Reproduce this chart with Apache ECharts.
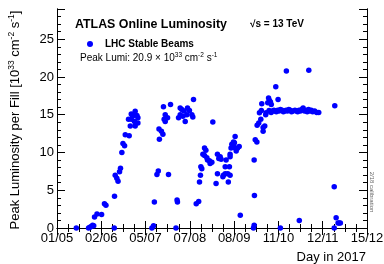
<!DOCTYPE html>
<html>
<head>
<meta charset="utf-8">
<script src="https://cdn.jsdelivr.net/npm/echarts@6/dist/echarts.min.js"></script>
<style>
  html, body { margin: 0; padding: 0; background: #fff; }
  #chart { width: 384px; height: 264px; }
</style>
</head>
<body>
<div id="chart"></div>
<script>
// x axis: days since 1 May 2017, labels dd/mm
const tickLabels = ['01/05', '02/06', '05/07', '07/08', '08/09', '11/10', '12/11', '15/12']
const dayMax = 228 // 1 May -> 15 Dec

// one entry per fill: day since 1 May, peak lumi [10^33 cm^-2 s^-1]
const fillDay = [
  14.2, 23.2, 24.2, 25.2, 26.2, 27.0, 27.6, 29.4, 32.8, 34.9, 36.0,
  42.1, 42.3, 42.8, 44.0, 44.9, 46.0, 46.7, 47.7, 48.5, 49.7, 50.2,
  52.6, 53.1, 53.9, 54.6, 54.6, 55.6, 56.3, 57.0, 57.5, 57.5, 58.8, 59.5, 59.5,
  69.8, 71.0, 71.6, 73.5, 74.5, 75.0, 75.3, 76.8, 77.9, 78.3, 78.8, 79.6, 79.6,
  81.3, 82.0, 83.5, 87.5, 88.3, 88.6, 89.4, 90.6, 90.6, 91.8, 92.6, 93.5,
  94.3, 95.5, 96.0, 97.4, 99.2, 99.9, 100.4,
  102.4, 104.2, 104.8, 105.5, 105.8, 106.5, 107.3, 108.5, 108.5, 109.5,
  110.2, 110.7, 112.1, 112.6, 113.9, 114.6, 117.0, 118.0, 118.0, 119.0,
  120.0, 120.7, 122.0, 122.4, 123.7, 123.7, 124.4, 125.6, 126.0, 126.8,
  127.3, 127.3, 127.3, 128.0, 128.6, 129.8, 129.8, 130.5, 131.0, 131.0,
  131.8, 132.7, 134.0, 134.8,
  144.5, 145.0, 145.2, 145.0, 145.8, 147.0, 147.2, 148.4, 148.9, 149.9,
  150.3, 150.6, 151.6, 151.6, 152.8, 153.5, 153.8, 155.0, 155.6, 156.0,
  156.3, 157.0, 157.6, 160.9, 162.6, 164.3, 168.7, 178.2, 185.2,
  157.5, 158.5, 159.5, 160.5, 161.3, 162.3, 163.3, 164.3, 165.5, 166.5,
  167.5, 168.5, 169.5, 170.5, 171.5, 172.5, 173.5, 175.0, 176.0, 177.0,
  178.0, 179.0, 180.0, 181.0, 182.0, 183.0, 184.0, 185.0, 186.0, 187.0,
  188.0, 189.5, 191.0, 192.5,
  203.9, 203.9, 204.3, 205.3, 206.7, 207.5, 208.4
]
const peakLumi = [
  0, 0, 0.1, 0.2, 0.35, 0.3, 1.45, 1.85, 1.8, 3.2, 3.0,
  0, 4.2, 7.0, 6.6, 6.2, 7.45, 7.9, 10.0, 11.2, 10.9, 12.35,
  14.4, 12.2, 13.5, 15.1, 14.4, 14.8, 15.0, 14.1, 15.45, 13.5, 14.9, 14.6, 13.9,
  0, 0.3, 3.45, 7.1, 7.55, 13.1, 11.75, 12.8, 12.4, 16.05, 14.4, 14.1, 15.0,
  14.6, 7.1, 16.35, 0, 3.7, 3.45, 14.6, 15.0, 15.9, 15.7, 14.8, 15.5,
  14.1, 15.0, 15.9, 15.55, 15.0, 14.7, 17.0,
  3.2, 3.5, 6.1, 7.0, 8.1, 7.85, 9.75, 10.6, 9.6, 10.3,
  9.3, 9.0, 8.9, 8.55, 8.7, 14.05, 5.9, 7.2, 9.75, 9.2,
  9.45, 9.1, 6.8, 7.0, 7.2, 8.1, 9.0, 7.2, 6.1, 8.1,
  7.0, 9.45, 9.75, 10.6, 11.1, 11.4, 11.0, 11.3, 12.1, 10.6,
  10.2, 10.55, 10.8, 1.7,
  0, 0.35, 4.3, 9.0, 11.7, 11.4, 13.6, 13.9, 15.25, 14.4,
  15.55, 16.45, 13.3, 12.8, 13.5, 15.0, 15.25, 16.6, 17.2, 15.55,
  16.9, 16.7, 16.35, 18.7, 17.0, 0, 20.8, 1.0, 20.9,
  15.3, 15.5, 15.6, 15.5, 15.4, 15.6, 15.5, 15.7, 15.6, 15.4,
  15.5, 15.6, 15.5, 15.7, 15.6, 15.4, 15.5, 15.6, 15.5, 15.4,
  15.6, 15.5, 15.7, 15.9, 15.5, 15.6, 15.4, 15.7, 15.5, 15.6,
  15.4, 15.5, 15.3, 15.3,
  0, 5.45, 16.2, 1.35, 0.66, 0.66, 0.66
]

const FONT = "'Liberation Sans', Arial, sans-serif"
// a hair over 228/7 so the last tick is the axis max itself
const xStep = dayMax / 7 + 0.0001

const frame = { lineStyle: { color: '#000', width: 1 } }

function xAxisOf(pos, showLabel) {
  return {
    type: 'value',
    position: pos,
    min: 0,
    max: dayMax,
    interval: xStep,
    axisLine: frame,
    axisTick: { inside: true, length: 7, lineStyle: { color: '#000' } },
    minorTick: { show: true, splitNumber: 4, length: 4, lineStyle: { color: '#000' } },
    splitLine: { show: false },
    axisLabel: {
      show: showLabel,
      margin: 4,
      color: '#000',
      fontSize: 13,
      fontFamily: FONT,
      formatter: v => tickLabels[Math.round(v / xStep)]
    }
  }
}

function yAxisOf(pos, interval, tickLen, showLabel) {
  return {
    type: 'value',
    position: pos,
    min: 0,
    max: 29,
    interval: interval,
    axisLine: { show: true, lineStyle: { color: '#000', width: 1 } },
    axisTick: { inside: true, length: tickLen, lineStyle: { color: '#000' } },
    splitLine: { show: false },
    axisLabel: {
      show: showLabel,
      margin: 3,
      color: '#000',
      fontSize: 13,
      fontFamily: FONT,
      formatter: v => (v % 5 === 0 ? String(v) : '')
    }
  }
}

const supRich = {
  n: { fontSize: 10, fontFamily: FONT, lineHeight: 13 },
  s: { fontSize: 6.5, fontFamily: FONT, verticalAlign: 'top', lineHeight: 8 }
}
const titleRich = {
  n: { fontSize: 13, fontFamily: FONT, lineHeight: 16 },
  s: { fontSize: 8.5, fontFamily: FONT, verticalAlign: 'top', lineHeight: 10 }
}

const options = {
  animation: false,
  backgroundColor: '#fff',
  grid: { left: 57, right: 17, top: 9, bottom: 36, outerBoundsMode: 'none' },
  xAxis: [xAxisOf('bottom', true), xAxisOf('top', false)],
  yAxis: [
    yAxisOf('left', 5, 8, true),
    yAxisOf('left', 1, 4, false),
    yAxisOf('right', 5, 8, false),
    yAxisOf('right', 1, 4, false)
  ],
  legend: {
    data: ['LHC Stable Beams'],
    left: 82,
    top: 34,
    icon: 'circle',
    itemWidth: 6,
    itemHeight: 6,
    textStyle: {
      fontFamily: FONT, fontSize: 10, fontWeight: 'bold', color: '#000',
      padding: [0, 0, 0, 7]
    }
  },
  graphic: [
    {
      type: 'text', x: 75, y: 25,
      style: {
        text: 'ATLAS Online Luminosity',
        font: "bold 12.4px 'Liberation Sans', Arial, sans-serif",
        fill: '#000', verticalAlign: 'middle', textVerticalAlign: 'middle'
      }
    },
    {
      type: 'text', x: 250, y: 24,
      style: {
        text: '√s = 13 TeV',
        font: "bold 10px 'Liberation Sans', Arial, sans-serif",
        fill: '#000', verticalAlign: 'middle', textVerticalAlign: 'middle'
      }
    },
    {
      type: 'text', x: 80, y: 58,
      style: {
        text: '{n|Peak Lumi: 20.9 × 10}{s|33}{n| cm}{s|-2}{n| s}{s|-1}',
        rich: supRich,
        fill: '#000', verticalAlign: 'middle', textVerticalAlign: 'middle'
      }
    },
    {
      type: 'text', x: 15, y: 120, rotation: Math.PI / 2,
      style: {
        text: '{n|Peak Luminosity per Fill [10}{s|33}{n| cm}{s|-2}{n| s}{s|-1}{n|]}',
        rich: titleRich,
        fill: '#000',
        align: 'center', textAlign: 'center',
        verticalAlign: 'middle', textVerticalAlign: 'middle'
      }
    },
    {
      type: 'text', x: 366, y: 257,
      style: {
        text: 'Day in 2017',
        font: "13px 'Liberation Sans', Arial, sans-serif",
        fill: '#000',
        align: 'right', textAlign: 'right',
        verticalAlign: 'middle', textVerticalAlign: 'middle'
      }
    },
    {
      type: 'text', x: 372, y: 192, rotation: -Math.PI / 2,
      style: {
        text: '2/18 calibration',
        font: "6px 'Liberation Sans', Arial, sans-serif",
        fill: '#666',
        align: 'center', textAlign: 'center',
        verticalAlign: 'middle', textVerticalAlign: 'middle'
      }
    }
  ],
  series: [
    {
      name: 'LHC Stable Beams',
      type: 'scatter',
      xAxisIndex: 0,
      yAxisIndex: 0,
      symbolSize: 5.5,
      itemStyle: { color: '#0000ff', opacity: 1 },
      data: fillDay.map((d, i) => [d, peakLumi[i]])
    }
  ]
}

const chart = echarts.init(document.getElementById('chart'))
chart.setOption(options)
</script>
</body>
</html>
